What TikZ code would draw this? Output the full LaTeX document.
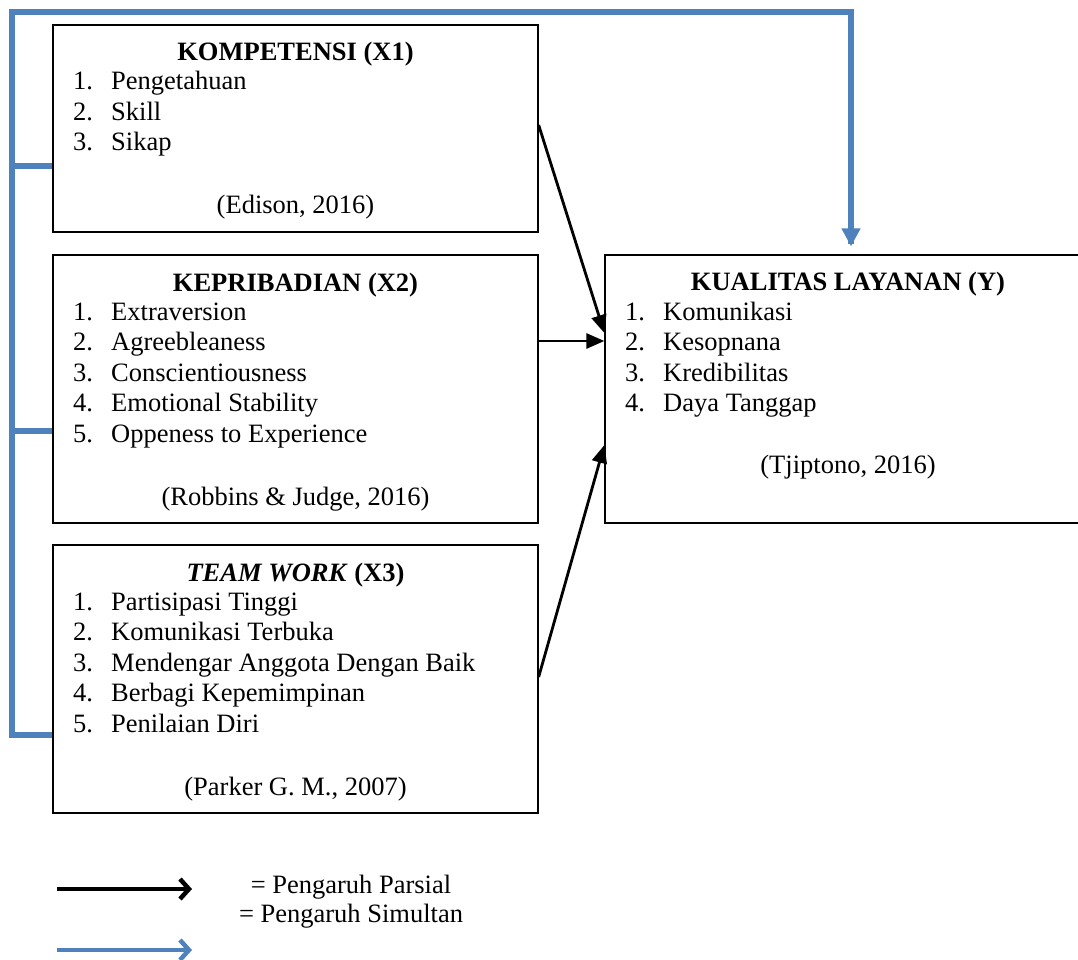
\documentclass[tikz,border=0pt]{standalone}
\usepackage{fontspec}
\setmainfont{Liberation Serif}
\usetikzlibrary{arrows.meta}
\definecolor{simblue}{HTML}{4F81BD}
\begin{document}
\begin{tikzpicture}[x=1pt,y=-1pt,
  box/.style={draw, line width=1.3pt, minimum width=485pt, inner sep=0pt},
  txt/.style={inner sep=0pt, font=\fontsize{26.5}{30}\selectfont},
  partial/.style={line width=2.8pt, -{Triangle[length=18pt,width=15pt]}},
  simul/.style={draw=simblue, line width=5.5pt},
  simularrow/.style={simul, -{Triangle[length=18pt,width=18pt]}},
  legblack/.style={line width=4.5pt, -{Straight Barb[length=9pt,width=20pt]}},
  legblue/.style={draw=simblue, line width=4.5pt, -{Straight Barb[length=9pt,width=20pt]}}]
\useasboundingbox (0,0) rectangle (1078,960);

% boxes
\node[box, minimum height=207pt] (x1) at (295.5,128.5) {};
\node[box, minimum height=268pt] (x2) at (295.5,389) {};
\node[box, minimum height=268pt] (x3) at (295.5,679) {};
\node[box, minimum height=268pt] (y) at (847.5,389) {};

% X1 text
\node[txt, anchor=base] (x1t) at (295.5,61) {\textbf{KOMPETENSI (X1)}};
\node[txt, anchor=base west] (x1n1) at (73,90) {1.};
\node[txt, anchor=base west] (x1i1) at (111,90) {Pengetahuan};
\node[txt, anchor=base west] (x1n2) at (73,120.5) {2.};
\node[txt, anchor=base west] (x1i2) at (111,120.5) {Skill};
\node[txt, anchor=base west] (x1n3) at (73,151) {3.};
\node[txt, anchor=base west] (x1i3) at (111,151) {Sikap};
\node[txt, anchor=base] (x1c) at (295.5,213) {(Edison, 2016)};

% X2 text
\node[txt, anchor=base] (x2t) at (295.5,291) {\textbf{KEPRIBADIAN (X2)}};
\node[txt, anchor=base west] (x2n1) at (73,320) {1.};
\node[txt, anchor=base west] (x2i1) at (111,320) {Extraversion};
\node[txt, anchor=base west] (x2n2) at (73,350.5) {2.};
\node[txt, anchor=base west] (x2i2) at (111,350.5) {Agreebleaness};
\node[txt, anchor=base west] (x2n3) at (73,381) {3.};
\node[txt, anchor=base west] (x2i3) at (111,381) {Conscientiousness};
\node[txt, anchor=base west] (x2n4) at (73,411.5) {4.};
\node[txt, anchor=base west] (x2i4) at (111,411.5) {Emotional Stability};
\node[txt, anchor=base west] (x2n5) at (73,442) {5.};
\node[txt, anchor=base west] (x2i5) at (111,442) {Oppeness to Experience};
\node[txt, anchor=base] (x2c) at (295.5,505) {(Robbins \& Judge, 2016)};

% X3 text
\node[txt, anchor=base] (x3t) at (295.5,581) {\textbf{\textit{TEAM WORK} (X3)}};
\node[txt, anchor=base west] (x3n1) at (73,610) {1.};
\node[txt, anchor=base west] (x3i1) at (111,610) {Partisipasi Tinggi};
\node[txt, anchor=base west] (x3n2) at (73,640.5) {2.};
\node[txt, anchor=base west] (x3i2) at (111,640.5) {Komunikasi Terbuka};
\node[txt, anchor=base west] (x3n3) at (73,671) {3.};
\node[txt, anchor=base west] (x3i3) at (111,671) {Mendengar Anggota Dengan Baik};
\node[txt, anchor=base west] (x3n4) at (73,701.5) {4.};
\node[txt, anchor=base west] (x3i4) at (111,701.5) {Berbagi Kepemimpinan};
\node[txt, anchor=base west] (x3n5) at (73,732) {5.};
\node[txt, anchor=base west] (x3i5) at (111,732) {Penilaian Diri};
\node[txt, anchor=base] (x3c) at (295.5,795) {(Parker G. M., 2007)};

% Y text
\node[txt, anchor=base] (yt) at (848,290) {\textbf{KUALITAS LAYANAN (Y)}};
\node[txt, anchor=base west] (yn1) at (625,320) {1.};
\node[txt, anchor=base west] (yi1) at (663,320) {Komunikasi};
\node[txt, anchor=base west] (yn2) at (625,350.5) {2.};
\node[txt, anchor=base west] (yi2) at (663,350.5) {Kesopnana};
\node[txt, anchor=base west] (yn3) at (625,381) {3.};
\node[txt, anchor=base west] (yi3) at (663,381) {Kredibilitas};
\node[txt, anchor=base west] (yn4) at (625,411.5) {4.};
\node[txt, anchor=base west] (yi4) at (663,411.5) {Daya Tanggap};
\node[txt, anchor=base] (yc) at (848,473) {(Tjiptono, 2016)};

% partial arrows
\draw[partial] (x1.east |- 0,125) -- (y.west |- 0,333);
\draw[partial] (x2.east |- 0,341) -- (y.west |- 0,341);
\draw[partial] (x3.east |- 0,677) -- (y.west |- 0,445);

% simultaneous connector
\coordinate (bl) at (12,735);
\coordinate (tl) at (12,12);
\coordinate (tr) at (851,12);
\draw[simul] (x1.west |- 0,166) -- (bl |- 0,166);
\draw[simul] (x2.west |- 0,431) -- (bl |- 0,431);
\draw[simul, line join=miter] (x3.west |- 0,735) -- (bl) -- (tl) -- (tr) -- ([yshift=10pt]y.north -| tr);
\draw[simularrow] ([yshift=30pt]y.north -| tr) -- ([yshift=8pt]y.north -| tr);

% legend
\coordinate (la1) at (57,889);
\coordinate (la2) at (192,889);
\coordinate (lb1) at (57,950);
\coordinate (lb2) at (192,950);
\draw[legblack] (la1) -- (la2);
\draw[legblue] (lb1) -- (lb2);
\node[txt, anchor=base] (lt1) at (351,893) {= Pengaruh Parsial};
\node[txt, anchor=base] (lt2) at (351,922) {= Pengaruh Simultan};
\end{tikzpicture}
\end{document}
